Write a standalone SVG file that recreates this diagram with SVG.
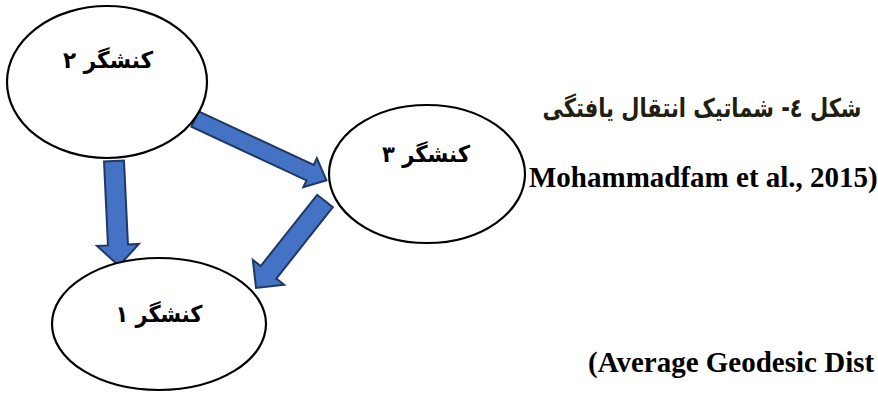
<svg xmlns="http://www.w3.org/2000/svg" width="878" height="394" viewBox="0 0 878 394">
  <defs>
    <style>
      .node ellipse { fill: #ffffff; stroke: #000000; stroke-width: 2.2; }
      .fa { font-family: "DejaVu Sans", sans-serif; font-weight: bold; direction: rtl; unicode-bidi: embed; text-anchor: middle; }
      .label { font-size: 23px; fill: #000000; }
      .en { font-family: "Liberation Serif", "Times New Roman", "DejaVu Serif", serif; font-weight: bold; font-size: 29px; fill: #000000; }
      .arrow { fill: #4472C4; stroke: #203864; stroke-width: 2; stroke-linejoin: miter; }
    </style>
  </defs>

  <rect width="878" height="394" fill="#ffffff"/>

  <!-- block arrows between the actors -->
  <g id="connectors">
    <!-- actor 2 -> actor 1 -->
    <polygon class="arrow" transform="translate(114,161) rotate(87.3)"
             points="0,-10 84,-10 84,-21 105,0 84,21 84,10 0,10"/>
    <!-- actor 2 -> actor 3 -->
    <polygon class="arrow" transform="translate(195,119) rotate(25)"
             points="0,-8.5 127,-8.5 127,-16 145,0 127,16 127,8.5 0,8.5"/>
    <!-- actor 3 -> actor 1 -->
    <polygon class="arrow" transform="translate(325,201) rotate(128.4)"
             points="0,-10 91,-10 91,-20 111,0 91,20 91,10 0,10"/>
  </g>

  <g id="node-actor2" class="node">
    <ellipse cx="107" cy="82" rx="100" ry="76"/>
    <text class="fa label" x="108" y="68" textLength="90" lengthAdjust="spacingAndGlyphs">کنشگر ۲</text>
  </g>

  <g id="node-actor3" class="node">
    <ellipse cx="427" cy="174" rx="98" ry="69"/>
    <text class="fa label" x="426" y="162" textLength="88" lengthAdjust="spacingAndGlyphs">کنشگر ۳</text>
  </g>

  <g id="node-actor1" class="node">
    <ellipse cx="159" cy="324" rx="107" ry="66"/>
    <text class="fa label" x="159" y="322" textLength="87" lengthAdjust="spacingAndGlyphs">کنشگر ۱</text>
  </g>

  <!-- caption and surrounding body text -->
  <g id="caption">
    <text class="fa" x="702" y="117" font-size="26" fill="#1f2012" textLength="319" lengthAdjust="spacingAndGlyphs">شکل ٤- شماتیک انتقال یافتگی</text>
    <text class="en" x="529" y="187">Mohammadfam et al., 2015)</text>
    <text class="en" x="588" y="372">(Average Geodesic Dist</text>
  </g>
</svg>
